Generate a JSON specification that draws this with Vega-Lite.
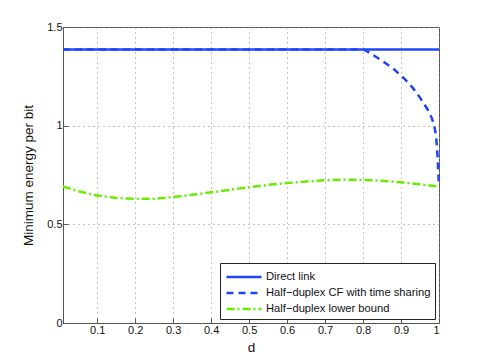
{
  "$schema": "https://vega.github.io/schema/vega-lite/v6.json",
  "autosize": {"type": "none"},
  "width": 376,
  "height": 296,
  "padding": {"left": 63, "top": 27, "right": 46, "bottom": 41},
  "background": "white",
  "config": {
    "font": "Liberation Sans",
    "view": {"stroke": "#555555", "strokeWidth": 1},
    "axis": {
      "labelFont": "Liberation Sans",
      "titleFont": "Liberation Sans",
      "labelFontSize": 11,
      "titleFontSize": 13.5,
      "titleFontWeight": "normal",
      "labelColor": "#111",
      "titleColor": "#111",
      "domainColor": "#555555",
      "tickColor": "#555555",
      "tickSize": -5,
      "gridColor": "#888888",
      "gridDash": [1, 4],
      "gridOpacity": 1,
      "gridWidth": 1
    }
  },
  "data": {
    "values": [
      {"d": 0.01, "v": 1.3863, "s": "Direct link"},
      {"d": 1.0, "v": 1.3863, "s": "Direct link"},
      {"d": 0.01, "v": 1.3863, "s": "Half−duplex CF with time sharing"},
      {"d": 0.80, "v": 1.3863, "s": "Half−duplex CF with time sharing"},
      {"d": 0.81, "v": 1.378, "s": "Half−duplex CF with time sharing"},
      {"d": 0.82, "v": 1.366, "s": "Half−duplex CF with time sharing"},
      {"d": 0.85, "v": 1.329, "s": "Half−duplex CF with time sharing"},
      {"d": 0.88, "v": 1.288, "s": "Half−duplex CF with time sharing"},
      {"d": 0.91, "v": 1.236, "s": "Half−duplex CF with time sharing"},
      {"d": 0.93, "v": 1.194, "s": "Half−duplex CF with time sharing"},
      {"d": 0.95, "v": 1.142, "s": "Half−duplex CF with time sharing"},
      {"d": 0.97, "v": 1.082, "s": "Half−duplex CF with time sharing"},
      {"d": 0.98, "v": 1.043, "s": "Half−duplex CF with time sharing"},
      {"d": 0.986, "v": 1.01, "s": "Half−duplex CF with time sharing"},
      {"d": 0.99, "v": 0.975, "s": "Half−duplex CF with time sharing"},
      {"d": 0.993, "v": 0.93, "s": "Half−duplex CF with time sharing"},
      {"d": 0.996, "v": 0.85, "s": "Half−duplex CF with time sharing"},
      {"d": 0.998, "v": 0.77, "s": "Half−duplex CF with time sharing"},
      {"d": 1.0, "v": 0.693, "s": "Half−duplex CF with time sharing"},
      {"d": 0.01, "v": 0.692, "s": "Half−duplex lower bound"},
      {"d": 0.05, "v": 0.668, "s": "Half−duplex lower bound"},
      {"d": 0.1, "v": 0.646, "s": "Half−duplex lower bound"},
      {"d": 0.15, "v": 0.634, "s": "Half−duplex lower bound"},
      {"d": 0.2, "v": 0.629, "s": "Half−duplex lower bound"},
      {"d": 0.25, "v": 0.630, "s": "Half−duplex lower bound"},
      {"d": 0.3, "v": 0.638, "s": "Half−duplex lower bound"},
      {"d": 0.35, "v": 0.650, "s": "Half−duplex lower bound"},
      {"d": 0.4, "v": 0.662, "s": "Half−duplex lower bound"},
      {"d": 0.45, "v": 0.675, "s": "Half−duplex lower bound"},
      {"d": 0.5, "v": 0.688, "s": "Half−duplex lower bound"},
      {"d": 0.55, "v": 0.700, "s": "Half−duplex lower bound"},
      {"d": 0.6, "v": 0.709, "s": "Half−duplex lower bound"},
      {"d": 0.65, "v": 0.717, "s": "Half−duplex lower bound"},
      {"d": 0.7, "v": 0.723, "s": "Half−duplex lower bound"},
      {"d": 0.75, "v": 0.726, "s": "Half−duplex lower bound"},
      {"d": 0.8, "v": 0.725, "s": "Half−duplex lower bound"},
      {"d": 0.85, "v": 0.721, "s": "Half−duplex lower bound"},
      {"d": 0.9, "v": 0.713, "s": "Half−duplex lower bound"},
      {"d": 0.95, "v": 0.703, "s": "Half−duplex lower bound"},
      {"d": 1.0, "v": 0.692, "s": "Half−duplex lower bound"}
    ]
  },
  "mark": {"type": "line", "strokeWidth": 2.5, "clip": false},
  "encoding": {
    "x": {
      "field": "d", "type": "quantitative",
      "scale": {"domain": [0.01, 1], "nice": false, "zero": false},
      "axis": {"values": [0.1, 0.2, 0.3, 0.4, 0.5, 0.6, 0.7, 0.8, 0.9, 1], "format": "~g", "title": "d", "labelPadding": 6, "titleY": 17}
    },
    "y": {
      "field": "v", "type": "quantitative",
      "scale": {"domain": [0, 1.5], "nice": false},
      "axis": {"values": [0, 0.5, 1, 1.5], "format": "~g", "title": "Minimum energy per bit", "labelPadding": 6, "titleX": -28}
    },
    "color": {
      "field": "s", "type": "nominal",
      "scale": {
        "domain": ["Direct link", "Half−duplex CF with time sharing", "Half−duplex lower bound"],
        "range": ["#1f45fc", "#1f45fc", "#66ee00"]
      },
      "legend": {
        "title": null, "orient": "bottom-right", "offset": 4,
        "strokeColor": "#222", "fillColor": "white", "padding": 4,
        "symbolType": "M-2,0H2", "symbolSize": 306, "symbolStrokeWidth": 2.5,
        "symbolOffset": 10,
        "labelFontSize": 11.2, "labelFont": "Liberation Sans", "labelColor": "#111",
        "labelOffset": 12,
        "rowPadding": -1, "labelLimit": 300
      }
    },
    "strokeDash": {
      "field": "s", "type": "nominal",
      "scale": {
        "domain": ["Direct link", "Half−duplex CF with time sharing", "Half−duplex lower bound"],
        "range": [[1, 0], [7, 5], [8, 3, 2, 3]]
      },
      "legend": null
    }
  }
}
